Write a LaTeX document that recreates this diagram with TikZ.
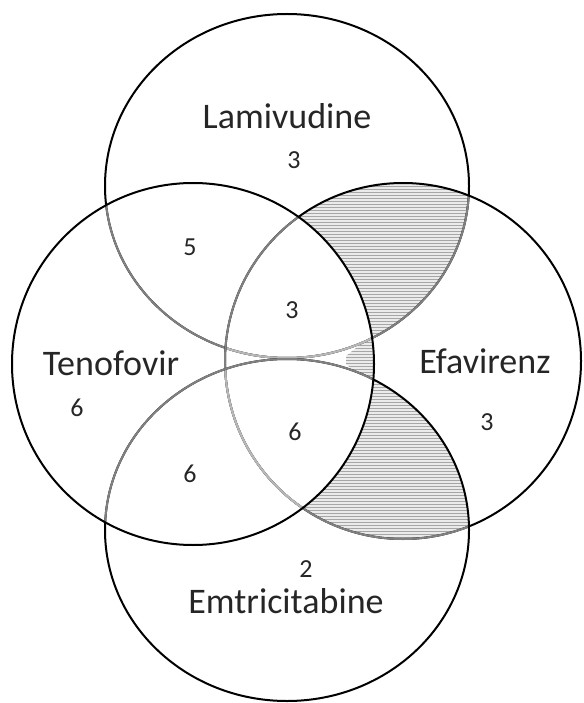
\documentclass[tikz,border=0pt]{standalone}
\usepackage{fontspec}
\setmainfont{Carlito}
\begin{document}
\begin{tikzpicture}[x=1pt,y=-1pt,
  outl/.style={line width=2pt,draw=black},
  mid/.style={line width=2pt,draw=black!50},
  light/.style={line width=2pt,draw=black!28},
  lbl/.style={font=\fontsize{36}{36}\selectfont, text=black!85, inner sep=0pt, anchor=base},
  num/.style={font=\fontsize{26}{26}\selectfont, text=black!85, inner sep=0pt, anchor=base},
  hatchbg/.style={fill=black!8},
  hatchline/.style={draw=black!35, line width=0.8pt}]
\useasboundingbox (0,0) rectangle (583,703);
\def\shLam{(287,186) ellipse [x radius=182, y radius=172]}
\def\shEmt{(287,530) ellipse [x radius=182, y radius=171]}
\def\shTen{(193,364) circle [radius=181]}
\def\shEfa{(403,361) circle [radius=178]}
% hatched regions: Efavirenz with Lamivudine or Emtricitabine, outside Tenofovir
\begin{scope}[even odd rule]
  \clip (-20,-20) rectangle (620,740) \shTen;
  \begin{scope}[nonzero rule]
    \clip \shEfa;
    \clip \shLam \shEmt;
    \fill[hatchbg] (0,0) rectangle (583,703);
    \foreach \yy in {150,153,...,560} \draw[hatchline] (180,\yy) -- (583,\yy);
  \end{scope}
\end{scope}
% small sliver near the middle, inside Tenofovir
\begin{scope}
  \clip (385,325) -- (346,356) -- (346,364) -- (385,398) -- cycle;
  \clip \shTen;
  \begin{scope}[even odd rule]
    \clip (-20,-20) rectangle (620,740) \shLam \shEmt;
    \fill[hatchbg] (0,0) rectangle (583,703);
    \foreach \yy in {150,153,...,560} \draw[hatchline] (180,\yy) -- (583,\yy);
  \end{scope}
\end{scope}
% Lamivudine outline (lowest)
\draw[outl] \shLam;
\begin{scope}\clip \shEfa; \draw[mid] \shLam; \end{scope}
\begin{scope}\clip \shEmt; \draw[mid] \shLam; \end{scope}
\begin{scope}\clip \shTen; \draw[mid] \shLam; \end{scope}
\begin{scope}\clip \shTen; \clip \shEfa; \draw[light] \shLam; \end{scope}
% Efavirenz outline
\draw[outl] \shEfa;
\begin{scope}\clip \shEmt; \draw[mid] \shEfa; \end{scope}
\begin{scope}\clip \shTen; \draw[mid] \shEfa; \end{scope}
\begin{scope}\clip \shTen; \clip \shEmt; \draw[light] \shEfa; \end{scope}
% Emtricitabine outline
\draw[outl] \shEmt;
\begin{scope}\clip \shTen; \draw[mid] \shEmt; \end{scope}
% Tenofovir outline (top)
\draw[outl] \shTen;
% labels
\node[lbl] (lam) at (287,129) {Lamivudine};
\node[lbl] (ten) at (111,375) {Tenofovir};
\node[lbl] (efa) at (485,373) {Efavirenz};
\node[lbl] (emt) at (286,613) {Emtricitabine};
% counts
\node[num] (nlam) at (294,169) {3};
\node[num] (nlt) at (190,255) {5};
\node[num] (nlte) at (292,318) {3};
\node[num] (nten) at (77,416) {6};
\node[num] (nefa) at (487,430) {3};
\node[num] (ntee) at (295,440) {6};
\node[num] (nte) at (190,482) {6};
\node[num] (nemt) at (306,577) {2};
\end{tikzpicture}
\end{document}
